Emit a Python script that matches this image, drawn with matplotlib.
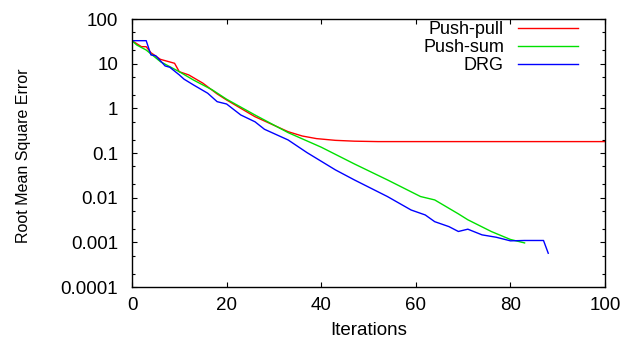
import matplotlib
matplotlib.use("Agg")
import matplotlib.pyplot as plt
from matplotlib.ticker import LogLocator, NullFormatter, FixedLocator

plt.rcParams["font.family"] = ["Liberation Sans", "DejaVu Sans"]

# values (log scale, so rough estimates)
pp_iter = [0, 2, 3, 4, 6, 9, 10, 12, 15, 18, 20, 26, 33, 36, 39, 43, 47, 52, 100]
pp_rmse = [32.7, 24, 24, 17.6, 12.5, 10.2, 6.6, 5.6, 3.65, 2.1, 1.54, 0.65,
           0.30, 0.24, 0.21, 0.192, 0.184, 0.180, 0.180]

ps_iter = [0, 1, 3, 6, 10, 13, 17, 20, 26, 33, 40, 47, 54, 61, 64, 69, 71, 76, 80, 83]
ps_rmse = [32.7, 26.2, 20.2, 11.1, 6.6, 4.3, 2.58, 1.6, 0.71, 0.286, 0.135,
           0.057, 0.025, 0.0106, 0.0089, 0.00434, 0.0032, 0.00174, 0.00116, 0.00097]

drg_iter = [0, 3, 4, 5, 7, 8, 10, 11, 13, 16, 18, 20, 23, 26, 28, 33, 37, 43, 47,
            54, 59, 62, 64, 67, 69, 71, 74, 77, 80, 83, 87, 88]
drg_rmse = [32.7, 32.7, 15.7, 15.1, 8.9, 8.3, 5.6, 4.5, 3.34, 2.18, 1.41, 1.25,
            0.71, 0.50, 0.34, 0.196, 0.102, 0.0419, 0.025, 0.0106, 0.0053, 0.0041,
            0.0029, 0.00225, 0.00175, 0.00197, 0.00147, 0.0013, 0.00108, 0.0011,
            0.0011, 0.00057]

series = [("Push-pull", pp_iter, pp_rmse, "#ff0000"),
          ("Push-sum", ps_iter, ps_rmse, "#00e000"),
          ("DRG", drg_iter, drg_rmse, "#0000ff")]

y_ticks = [1e2, 1e1, 1, 1e-1, 1e-2, 1e-3, 1e-4]
y_labels = ["100", "10", "1", "0.1", "0.01", "0.001", "0.0001"]
x_ticks = [0, 20, 40, 60, 80, 100]

fig = plt.figure(figsize=(6.27, 3.38), dpi=100)
ax = fig.add_axes([132 / 627, 1 - 287 / 338, 473 / 627, 268 / 338])

for name, xs, ys, col in series:
    ax.plot(xs, ys, color=col, lw=1.0, label=name)

ax.set_yscale("log")
ax.set_xlim(0, 100)
ax.set_ylim(1e-4, 1e2)
ax.set_xticks(x_ticks)
ax.set_xticklabels([str(t) for t in x_ticks])
ax.yaxis.set_major_locator(FixedLocator(y_ticks))
ax.set_yticklabels(y_labels)
ax.yaxis.set_minor_locator(LogLocator(base=10, subs=(2, 5)))
ax.yaxis.set_minor_formatter(NullFormatter())

ax.tick_params(which="both", direction="in", top=True, right=True, width=0.8)
ax.tick_params(which="major", length=3.5, labelsize=13.5)
ax.tick_params(which="minor", length=2)
ax.tick_params(axis="x", pad=7)
ax.tick_params(axis="y", pad=10)
for sp in ax.spines.values():
    sp.set_linewidth(1.0)

ax.set_xlabel("Iterations", fontsize=13.5)
ax.xaxis.set_label_coords(0.5, -0.13)
ax.set_ylabel("Root Mean Square Error", fontsize=11.5)
ax.yaxis.set_label_coords(-0.2135, 0.49)

ax.legend(loc="upper right", bbox_to_anchor=(446 / 473, (287 - 21.5) / 268),
          frameon=False, markerfirst=False, fontsize=13, handlelength=3.3,
          handletextpad=0.8, labelspacing=0.05, borderpad=0, borderaxespad=0)

fig.savefig("out.png", dpi=100)
